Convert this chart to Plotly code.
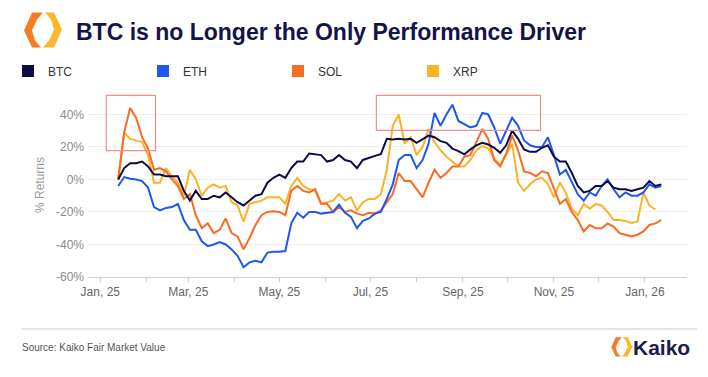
import pandas as pd
import plotly.graph_objects as go

# ---------------- data ----------------
dates = pd.date_range("2025-01-13", periods=92, freq="4D")

btc = [0, 7, 10, 10, 11, 8, 3, 3, 2, 2, 2, -7, -13, -7, -12, -12, -10, -11, -8, -11,
       -14, -16, -13, -10, -9, -2, 1, 3, 1, 7, 11, 11, 16, 15.5, 15, 11, 12, 15, 12, 11,
       7, 12, 13.5, 14.5, 15.5, 25, 24.6, 25, 24.6, 25, 22.5, 24.6, 27, 26, 23.6, 22.5, 19, 17.5, 15.5, 18.5,
       21, 22.5, 21.5, 19.5, 16.4, 21, 30, 25, 18.5, 17, 17, 19.5, 21, 14, 11, 11, 4, -4, -8, -7,
       -4, -4, -1, -5, -6, -6, -7, -6, -5, -1, -4, -3]

eth = [-4, 1.5, 0.5, 0, -1, -5, -17, -19, -17.5, -17, -15, -25, -31, -31, -38, -41, -40, -38.5, -40, -43,
       -47, -54, -51, -50, -51, -45, -44.5, -44.5, -44, -27, -20.5, -23.5, -20, -20, -21, -20.5, -20, -15.5, -20.5, -23,
       -30, -25.5, -24, -21, -20, -12, -3, 12, 15, 15, 7, 12, 22, 41, 33, 40, 46, 36, 34, 32,
       33, 41, 40, 32, 22, 30, 38, 33, 24, 21, 20, 20, 26, 15, 3, 6, -2, -9, -13, -8,
       -10, -4, 0, -6, -11, -8, -10, -10, -8, -3, -5, -4]

sol = [0, 29, 44, 38, 26, 19, 6, 7, 5, 0, -4, -12, -9, -22, -30, -27, -33, -31, -24, -33,
       -35, -43, -36, -28, -22, -20, -19.5, -20, -22, -7, -4, -7, -8, -6, -15, -15, -20, -17, -20, -19,
       -21, -22, -20.5, -21, -19, -14, -9, 4, -1, -1, -6, -11, -2, 6, 1, 4, 8, 8, 14, 15,
       23, 31, 25, 12, 8, 16, 27, 18, 5, 4, 2, 5, 4, -6, -15, -12, -20, -25, -32, -28,
       -30, -30, -27, -29, -33, -34, -35, -34, -32, -28, -27, -25]

xrp = [0, 29, 25, 24, 23, 15, -2, -2, 7, 2, -2, -10, 6, 0, -10, -5, -3, -5, -4, -14,
       -16, -26, -15, -14, -13, -11, -11, -11, -15, -4, 1, -4, -6, -7, -15, -14, -13, -9, -13, -11,
       -19, -14, -12, -12, -9, 6, 33, 40, 22, 26, 15, 20, 31, 23, 18, 14, 11, 8, 8, 12,
       18, 20.5, 19, 13, 9, 15, 22, -2, -7, -3, 0, 1, -3, -11, -2, -8, -18, -22, -15,
       -18, -15, -16, -20, -25, -25, -25.6, -26.7, -26, -8, -16, -18.5]

series_names = ["BTC", "ETH", "SOL", "XRP"]
series_values = {"BTC": btc, "ETH": eth, "SOL": sol, "XRP": xrp}
colors = {"BTC": "#0c0b45", "ETH": "#1f58f0", "SOL": "#fb6a22", "XRP": "#fbb325"}

y_ticks = [-60, -40, -20, 0, 20, 40]
y_tick_labels = ["-60%", "-40%", "-20%", "0%", "20%", "40%"]

# highlight boxes (date range, return range)
box_x = [("2025-01-05", "2025-02-07"), ("2025-07-05", "2025-10-23")]
box_y = [(17.8, 51.7), (30.2, 51.7)]

# ---------------- layout geometry ----------------
# The page body has an 8px margin, so the figure is offset by (8, 8) in the window.
OFF = 8
WIN_W, WIN_H = 708, 377
W, H = WIN_W - 2 * OFF, WIN_H - 2 * OFF
PLOT_L, PLOT_R, PLOT_T, PLOT_B = 88, 687, 93, 277          # window pixels
ML, MT = PLOT_L - OFF, PLOT_T - OFF
MR, MB = (W + OFF) - PLOT_R, (H + OFF) - PLOT_B
PW, PH = PLOT_R - PLOT_L, PLOT_B - PLOT_T


def px(x):
    return (x - PLOT_L) / PW


def py(y):
    return (PLOT_B - y) / PH


def cx(x):
    return (x - OFF) / W


def cy(y):
    return 1 - (y - OFF) / H


FONT = "Liberation Sans, Arial, Helvetica, sans-serif"

fig = go.Figure()

# draw lines (BTC on top)
for name in ["XRP", "SOL", "ETH", "BTC"]:
    fig.add_trace(go.Scatter(
        x=dates, y=series_values[name], mode="lines", name=name,
        line=dict(color=colors[name], width=2), showlegend=False,
        hovertemplate="%{x|%b %d, %Y}<br>" + name + ": %{y:.1f}%<extra></extra>",
    ))

# legend entries (square swatches)
for name in series_names:
    fig.add_trace(go.Scatter(
        x=[None], y=[None], mode="markers", name=name,
        marker=dict(symbol="square", size=12, color=colors[name]),
        showlegend=True, hoverinfo="skip",
    ))

shapes = []
# dotted zero line
shapes.append(dict(type="line", xref="paper", x0=0, x1=1, yref="y", y0=0, y1=0,
                   line=dict(color="#b5b5b5", width=1, dash="dot"), layer="below"))
# red highlight boxes
for (x0, x1), (y0, y1) in zip(box_x, box_y):
    shapes.append(dict(type="rect", xref="x", yref="y", x0=x0, x1=x1, y0=y0, y1=y1,
                       line=dict(color="#f08c8c", width=1.2), fillcolor="rgba(0,0,0,0)"))
# footer rule
shapes.append(dict(type="line", xref="paper", yref="paper", x0=px(22), x1=px(697),
                   y0=py(329), y1=py(329), line=dict(color="#c9c9c9", width=1)))


def logo(lx, ly, s):
    left = [(0.5, -17.5), (-10.5, -17.5), (-18.5, 0.5), (-10.5, 17.5), (-1.5, 17.5),
            (-7.5, 10.5), (-10.5, 0.5), (-5.5, -10.5)]
    right = [(-x + 1.0, -y) for (x, y) in left]
    out = []
    for pts, col in ((left, "#f57d1f"), (right, "#fdb62c")):
        d = "M " + " L ".join(f"{px(lx + x * s):.5f},{py(ly + y * s):.5f}" for x, y in pts) + " Z"
        out.append(dict(type="path", xref="paper", yref="paper", path=d,
                        fillcolor=col, line=dict(width=0)))
    return out


shapes += logo(42.5, 30, 1.0)
shapes += logo(621.5, 347, 0.55)

annotations = [
    dict(text="Source: Kaiko Fair Market Value", xref="paper", yref="paper",
         x=px(20), y=py(347), xanchor="left", yanchor="middle", showarrow=False,
         font=dict(family=FONT, size=10, color="#555555")),
    dict(text="<b>Kaiko</b>", xref="paper", yref="paper",
         x=px(631), y=py(347), xanchor="left", yanchor="middle", showarrow=False,
         font=dict(family=FONT, size=21, color="#1b1a4f")),
]

fig.update_layout(
    width=W, height=H,
    margin=dict(l=ML, r=MR, t=MT, b=MB, pad=0, autoexpand=False),
    paper_bgcolor="white", plot_bgcolor="white",
    font=dict(family=FONT, color="#555555"),
    title=dict(text="<b>BTC is no Longer the Only Performance Driver</b>",
               xref="container", yref="container", x=cx(76), xanchor="left",
               y=cy(32), yanchor="middle",
               font=dict(family=FONT, size=23, color="#14134a")),
    legend=dict(orientation="h", xref="container", yref="container",
                x=0, xanchor="left", y=cy(71), yanchor="middle",
                entrywidth=90, entrywidthmode="pixels",
                font=dict(family=FONT, size=12, color="#333333"),
                bgcolor="rgba(0,0,0,0)", itemclick=False, itemdoubleclick=False),
    shapes=shapes,
    annotations=annotations,
    hovermode="x unified",
)

fig.update_xaxes(
    type="date",
    range=["2024-12-23 18:00", "2026-01-29 05:00"],
    tickvals=pd.date_range("2025-01-01", "2026-01-01", freq="2MS"),
    tickformat="%b, %y",
    ticks="outside", ticklen=4, tickcolor="#cccccc",
    minor=dict(tickvals=pd.date_range("2025-01-01", "2026-01-01", freq="MS"),
               ticks="outside", ticklen=4, tickcolor="#cccccc", showgrid=False),
    showgrid=False, showline=True, linecolor="#d0d0d0", linewidth=1,
    tickfont=dict(family=FONT, size=12, color="#666666"),
    zeroline=False, fixedrange=True,
)

fig.update_yaxes(
    range=[-60, 53.2], tickvals=y_ticks, ticktext=y_tick_labels,
    showgrid=True, gridcolor="#eeeeee", gridwidth=1, zeroline=False,
    ticks="", ticklabelstandoff=3,
    tickfont=dict(family=FONT, size=12, color="#8a8a8a"),
    title=dict(text="% Returns", standoff=8,
               font=dict(family=FONT, size=12, color="#9a9a9a")),
    fixedrange=True,
)

fig.write_html("out.html")
